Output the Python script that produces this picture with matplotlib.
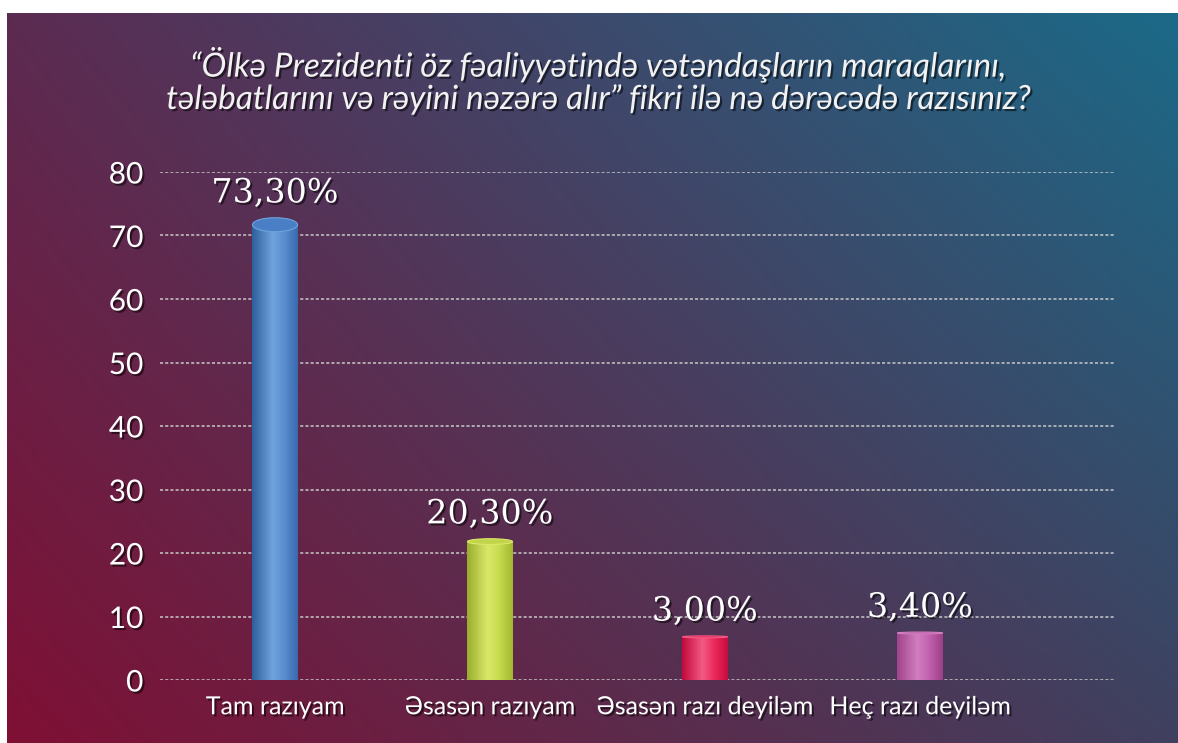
import matplotlib

matplotlib.use("Agg")

import matplotlib.pyplot as plt
import matplotlib.patheffects as pe
import numpy as np
from matplotlib.colors import LinearSegmentedColormap, to_rgb
from matplotlib.patches import Ellipse

# data
categories = ["Tam razıyam", "Əsasən razıyam", "Əsasən razı deyiləm", "Heç razı deyiləm"]
bar_heights = [71.7, 21.8, 6.8, 7.4]
value_labels = ["73,30%", "20,30%", "3,00%", "3,40%"]
y_ticks = [0, 10, 20, 30, 40, 50, 60, 70, 80]
title_lines = [
    "“Ölkə Prezidenti öz fəaliyyətində vətəndaşların maraqlarını,",
    "tələbatlarını və rəyini nəzərə alır” fikri ilə nə dərəcədə razısınız?",
]

# cylinder shading: edge, highlight, body, edge
bar_shades = [
    ["#2f5f9e", "#6fa3dd", "#5a8fd0", "#3a6aae"],
    ["#9aae2c", "#dbe86a", "#c9dc50", "#a3b832"],
    ["#c20a3c", "#f25a84", "#ec2a5c", "#c80c40"],
    ["#a0458c", "#d27ec0", "#c262ae", "#9c4088"],
]
top_colors = ["#4a7fc6", "#c2d44a", "#e8205a", "#bc5aa8"]
top_heights = [2.2, 0.9, 0.3, 0.3]

W, H = 1178, 743
fig = plt.figure(figsize=(W / 100, H / 100), dpi=100)
fig.patch.set_facecolor("white")

# gradient background
bg = fig.add_axes([7 / W, 0, 1 - 7 / W, 1 - 13 / H])
bg.set_axis_off()
tl, tr = np.array(to_rgb("#5c2b52")), np.array(to_rgb("#1b6a88"))
bl, br = np.array(to_rgb("#7f1034")), np.array(to_rgb("#40405f"))
u = np.linspace(0, 1, 300)[None, :, None]
v = np.linspace(0, 1, 200)[:, None, None]
img = (1 - v) * ((1 - u) * tl + u * tr) + v * ((1 - u) * bl + u * br)
bg.imshow(img, aspect="auto", extent=[0, 1, 0, 1], interpolation="bilinear")
bg.set_xlim(0, 1)
bg.set_ylim(0, 1)

ax = fig.add_axes([160 / W, 63 / H, 955 / W, 508 / H])
ax.set_facecolor("none")
for s in ax.spines.values():
    s.set_visible(False)

shadow = [pe.SimplePatchShadow(offset=(1.5, -1.5), shadow_rgbFace="black", alpha=0.55), pe.Normal()]

x = np.arange(len(categories))
width = 0.21
bars = ax.bar(x, bar_heights, width=width, color="none", zorder=3)
for i, b in enumerate(bars):
    x0 = b.get_x()
    cmap = LinearSegmentedColormap.from_list(
        "c%d" % i, [(0, bar_shades[i][0]), (0.45, bar_shades[i][1]),
                    (0.7, bar_shades[i][2]), (1, bar_shades[i][3])])
    im = ax.imshow(np.linspace(0, 1, 64)[None, :], cmap=cmap, aspect="auto",
                   extent=[x0, x0 + width, 0, b.get_height()], zorder=3)
    im.set_clip_path(b)
    ax.add_patch(Ellipse((x[i], b.get_height()), width, top_heights[i],
                         facecolor=top_colors[i], edgecolor=bar_shades[i][1],
                         lw=0.8, zorder=4))
    ax.annotate(value_labels[i], (x[i], b.get_height() + top_heights[i] / 2),
                xytext=(0, 6), textcoords="offset points", ha="center", va="bottom",
                fontsize=24, family="DejaVu Serif", color="white",
                path_effects=shadow, zorder=5)

ax.set_xlim(-0.535, 3.907)
ax.set_ylim(0, 80)
ax.set_yticks(y_ticks)
ax.set_xticks(x)
ax.set_xticklabels(categories)
ax.tick_params(length=0)
ax.tick_params(axis="y", pad=12)
ax.tick_params(axis="x", pad=11)
for t in ax.get_yticklabels():
    t.set_fontsize(21.5)
    t.set_family("Lato")
    t.set_color("white")
    t.set_path_effects(shadow)
for t in ax.get_xticklabels():
    t.set_fontsize(18)
    t.set_family("Lato")
    t.set_color("white")
    t.set_path_effects(shadow)

ax.grid(axis="y", color="#c8c8c8", lw=1.1, linestyle=(0, (2, 1.4)), zorder=1)
ax.set_axisbelow(True)

for k, yy in enumerate([0.913, 0.866]):
    fig.text(0.508, yy, title_lines[k], ha="center", va="center", fontsize=24,
             family="Lato", style="italic", weight="normal", color="#f2f2f2",
             path_effects=shadow)

fig.savefig("out.png", dpi=100)
